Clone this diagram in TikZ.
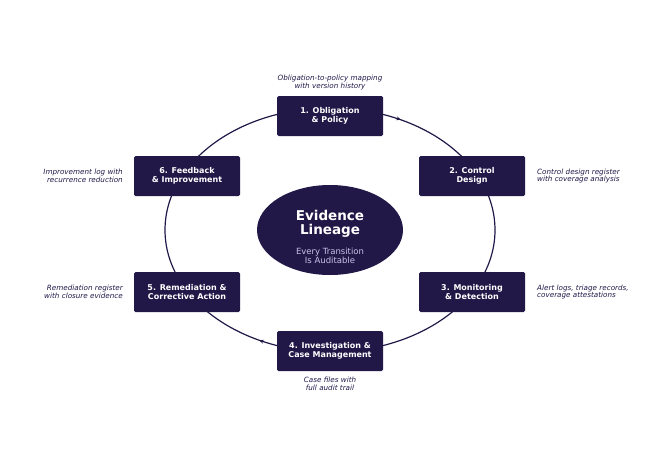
\documentclass[tikz,border=0pt]{standalone}
\usepackage{fontspec}
\setmainfont{DejaVu Sans}
\usetikzlibrary{decorations.markings,arrows.meta,shapes.geometric}
\definecolor{navy}{HTML}{211848}
\definecolor{lav}{HTML}{C9C2E8}
\begin{document}
\begin{tikzpicture}[x=1pt,y=-1pt]

\tikzset{line/.style={draw=navy,line width=1.2pt}}
\tikzset{stage/.style={fill=navy,rounded corners=1.5pt,minimum width=106pt,minimum height=40pt,text=white,font=\bfseries\fontsize{8}{8.5}\selectfont,align=center,inner sep=1pt}}
\tikzset{note/.style={text=navy,font=\itshape\fontsize{7.2}{7.6}\selectfont,inner sep=1pt}}

\useasboundingbox (0,0) rectangle (660,469);

\path[line,postaction={decorate},decoration={markings,
  mark=at position 0.33 with {\arrow{Stealth[length=5pt]}},
  mark=at position 0.83 with {\arrow{Stealth[length=5pt]}}}]
  (330,230) ellipse [x radius=165, y radius=122];

\node[fill=navy,ellipse,minimum width=146pt,minimum height=90pt,inner sep=0pt] (hub) at (330,230) {};
\node[text=white,font=\bfseries\fontsize{13.5}{14}\selectfont,align=center] (ttl) at (330,224) {Evidence\\Lineage};
\node[text=lav,font=\fontsize{8.5}{8.5}\selectfont,align=center] (sub) at (330,256) {Every Transition\\Is Auditable};

\node[stage] (ob) at (330,116) {1. Obligation\\\& Policy};
\node[stage] (ctl) at (472,176) {2. Control\\Design};
\node[stage] (mon) at (472,292) {3. Monitoring\\\& Detection};
\node[stage] (inv) at (330,351) {4. Investigation \&\\Case Management};
\node[stage] (rem) at (187,292) {5. Remediation \&\\Corrective Action};
\node[stage] (fb) at (187,176) {6. Feedback\\\& Improvement};

\node[note,align=center,anchor=south] (nob) at (330,91) {Obligation-to-policy mapping\\with version history};
\node[note,align=left,anchor=west] (nctl) at (536,176) {Control design register\\with coverage analysis};
\node[note,align=left,anchor=west] (nmon) at (536,292) {Alert logs, triage records,\\coverage attestations};
\node[note,align=center,anchor=north] (ninv) at (330,376) {Case files with\\full audit trail};
\node[note,align=right,anchor=east] (nrem) at (124,292) {Remediation register\\with closure evidence};
\node[note,align=right,anchor=east] (nfb) at (124,176) {Improvement log with\\recurrence reduction};

\end{tikzpicture}
\end{document}
